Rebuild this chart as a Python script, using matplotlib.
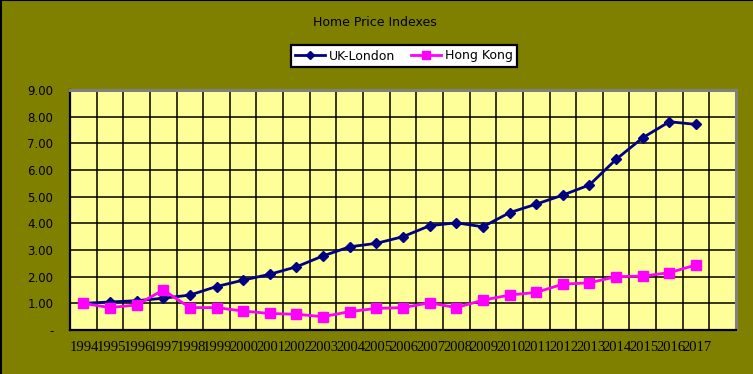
import numpy as np
import matplotlib.pyplot as plt
from matplotlib.lines import Line2D

years = [str(y) for y in range(1994, 2018)]
uk_london = [1.00, 1.05, 1.10, 1.19, 1.31, 1.63, 1.87, 2.09, 2.37, 2.78, 3.12, 3.25,
             3.50, 3.91, 4.02, 3.87, 4.40, 4.72, 5.06, 5.44, 6.40, 7.21, 7.81, 7.71]
hong_kong = [1.00, 0.84, 0.94, 1.50, 0.84, 0.84, 0.71, 0.62, 0.59, 0.50, 0.69, 0.81,
             0.84, 1.02, 0.84, 1.12, 1.31, 1.41, 1.72, 1.77, 2.00, 2.02, 2.15, 2.44]
y_ticks = [0, 1, 2, 3, 4, 5, 6, 7, 8, 9]
y_labels = ['-', '1.00', '2.00', '3.00', '4.00', '5.00', '6.00', '7.00', '8.00', '9.00']

olive = '#808000'
fig = plt.figure(figsize=(7.53, 3.74), dpi=100, facecolor=olive)
ax = fig.add_axes([70 / 753, 44 / 374, 666 / 753, 240 / 374])
ax.set_facecolor('#FFFF99')

x = np.arange(len(years))
ax.plot(x, uk_london, color='#000080', lw=2, marker='D', ms=5, label='UK-London', zorder=3)
ax.plot(x, hong_kong, color='#FF00FF', lw=2, marker='s', ms=7, label='Hong Kong', zorder=3)

ax.set_xlim(-0.5, len(years) + 0.5)
ax.set_ylim(0, 9)

# gridlines
for k in range(1, len(years) + 1):
    ax.axvline(k - 0.5, color='black', lw=1.1, zorder=1)
for v in y_ticks[1:-1]:
    ax.axhline(v, color='black', lw=1.1, zorder=1)

ax.set_yticks(y_ticks)
ax.set_yticklabels(y_labels, fontsize=8.5, family='DejaVu Sans')
ax.tick_params(axis='y', length=0, pad=12)
ax.set_xticks([])
for i, yr in enumerate(years):
    ax.text(i - 0.5, -0.42, yr, ha='left', va='top', fontsize=10.5,
            family='Liberation Serif', color='black')

for s in ['left', 'bottom']:
    ax.spines[s].set_color('black')
    ax.spines[s].set_linewidth(1.6)
for s in ['top', 'right']:
    ax.spines[s].set_color('#808080')
    ax.spines[s].set_linewidth(2.2)

fig.text(375 / 753, 1 - 23 / 374, 'Home Price Indexes', ha='center', va='center', fontsize=9)

leg = fig.legend(loc='center', bbox_to_anchor=(404 / 753, 1 - 56 / 374), ncol=2,
                 fontsize=9, frameon=True, fancybox=False, handlelength=2.4,
                 columnspacing=1.3, borderpad=0.35, handletextpad=0.3,
                 markerscale=0.8)
leg.get_frame().set_edgecolor('black')
leg.get_frame().set_linewidth(1.6)
leg.get_frame().set_facecolor('white')
leg.get_frame().set_alpha(1)

fig.add_artist(Line2D([0.001, 0.001], [0, 1], color='black', lw=1.5, transform=fig.transFigure))
fig.add_artist(Line2D([0, 1], [0.999, 0.999], color='black', lw=1.5, transform=fig.transFigure))

fig.savefig('out.png', dpi=100, facecolor=olive)
